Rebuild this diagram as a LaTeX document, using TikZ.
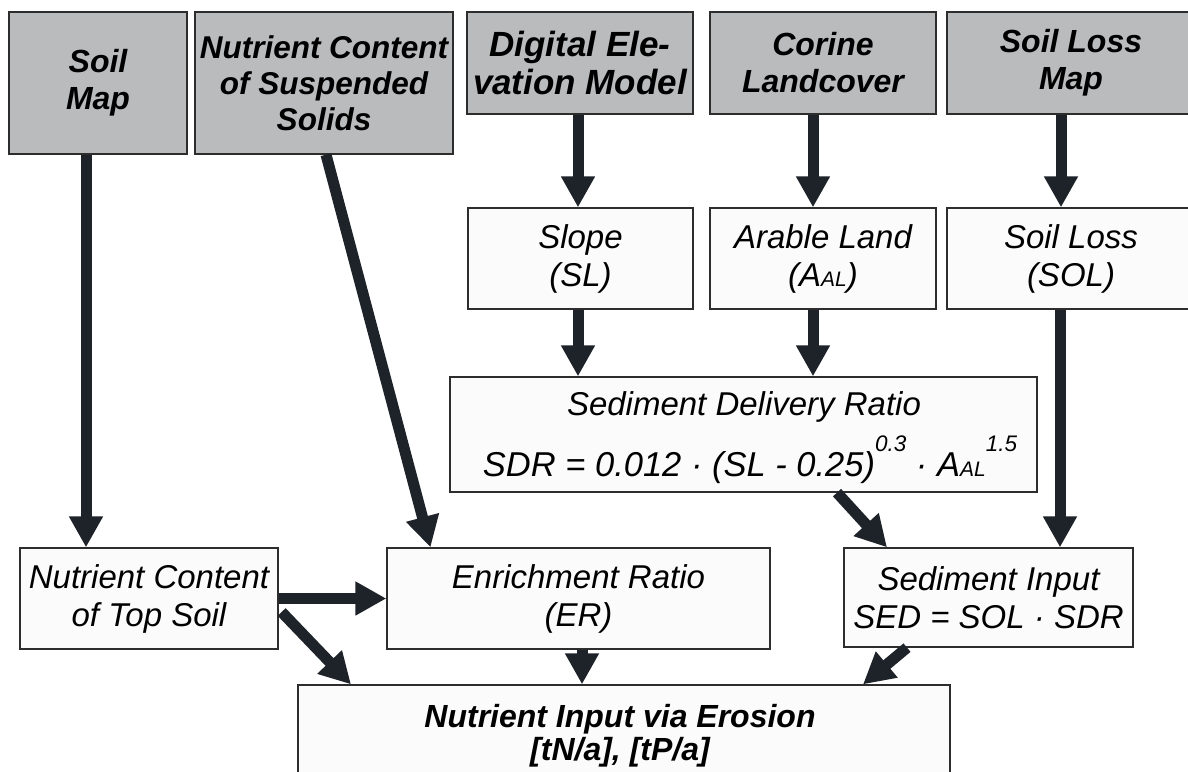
\documentclass[tikz,border=0pt]{standalone}
\usepackage{fontspec}
\setmainfont{Liberation Sans}
\usetikzlibrary{arrows.meta}
\definecolor{boxgray}{RGB}{185,187,189}
\definecolor{boxwhite}{RGB}{251,251,251}
\definecolor{edgecol}{RGB}{45,45,45}
\definecolor{arrcol}{RGB}{29,35,41}
\newcommand{\tsz}{\fontsize{32}{37}\selectfont\bfseries\itshape}
\newcommand{\tszbig}{\fontsize{35}{38}\selectfont\bfseries\itshape}
\newcommand{\msz}{\fontsize{33}{38}\selectfont\itshape}
\newcommand{\fsz}{\fontsize{34.5}{38}\selectfont\itshape}
\newcommand{\bsz}{\fontsize{32}{33}\selectfont\bfseries\itshape}
\newcommand{\smallsub}[1]{{\fontsize{21}{21}\selectfont #1}}
\newcommand{\supr}[1]{\raisebox{25pt}{\fontsize{22.5}{22.5}\selectfont #1}}
\begin{document}
\begin{tikzpicture}[x=1pt,y=-1pt,
  gbox/.style={draw=edgecol,line width=1.3pt,fill=boxgray,inner sep=0pt,align=center,font=\tsz},
  wbox/.style={draw=edgecol,line width=1.3pt,fill=boxwhite,inner sep=0pt,align=center,font=\msz},
  txt/.style={inner sep=0pt,align=center},
  arr/.style={draw=arrcol,line width=11pt,-{Triangle[length=31pt,width=32pt]}}]
\useasboundingbox (0,0) rectangle (1188,771);
\clip (0,0) rectangle (1188,771);
\fill[white] (0,0) rectangle (1188,771);

% top row
\node[gbox,minimum width=178pt,minimum height=142pt] (soilmap) at (98,83) {Soil\\Map};
\node[gbox,minimum width=258pt,minimum height=142pt,font=\fontsize{31.5}{36}\selectfont\bfseries\itshape] (ncss) at (324,83) {Nutrient Content\\of Suspended\\Solids};
\node[gbox,minimum width=226pt,minimum height=102pt,font=\tszbig] (dem) at (580,63) {Digital Ele-\\vation Model};
\node[gbox,minimum width=226pt,minimum height=102pt] (corine) at (823,63) {Corine\\Landcover};
\node[gbox,minimum width=248pt,minimum height=102pt] (slm) at (1071,63) {Soil Loss\\Map};

% middle row
\node[wbox,minimum width=225pt,minimum height=101pt] (slope) at (580.5,258.5) {Slope\\(SL)};
\node[wbox,minimum width=226pt,minimum height=101pt] (arable) at (823,258.5) {Arable Land\\(A\smallsub{AL})};
\node[wbox,minimum width=248pt,minimum height=101pt] (soilloss) at (1071,258.5) {Soil Loss\\(SOL)};

\node[wbox,minimum width=587pt,minimum height=115pt] (sdr) at (743.5,434.5) {};
\node[txt,font=\msz,anchor=base] (sdrA) at (744,415) {Sediment Delivery Ratio};
\node[txt,font=\fsz,anchor=base] (sdrB) at (750,476) {SDR = 0.012 · (SL - 0.25)\supr{0.3} · A\smallsub{AL}\supr{1.5}};

% lower row
\node[wbox,minimum width=258pt,minimum height=101pt] (ncts) at (149,598.5) {Nutrient Content\\of Top Soil};
\node[wbox,minimum width=383pt,minimum height=101pt] (er) at (578.5,598.5) {Enrichment Ratio\\(ER)};
\node[wbox,minimum width=289pt,minimum height=99pt] (sed) at (988.5,597.5) {Sediment Input\\SED = SOL · SDR};

\node[wbox,minimum width=652pt,minimum height=125pt] (nie) at (624,747.5) {};
\node[txt,font=\bsz] (nieT) at (620,736) {Nutrient Input via Erosion\\{}[tN/a], [tP/a]};

% arrows
\draw[arr] ([xshift=-12pt]soilmap.south) -- ([xshift=-12pt]soilmap.south |- ncts.north);
\draw[arr] ([xshift=2pt]ncss.south) -- ([xshift=-148pt]er.north);
\draw[arr] ([xshift=-2pt]dem.south) -- ([xshift=-2pt]dem.south |- slope.north);
\draw[arr] ([xshift=-10pt]corine.south) -- ([xshift=-10pt]corine.south |- arable.north);
\draw[arr] ([xshift=-10pt]slm.south) -- ([xshift=-10pt]slm.south |- soilloss.north);
\draw[arr] ([xshift=-2.5pt]slope.south) -- ([xshift=-2.5pt]slope.south |- sdr.north);
\draw[arr] ([xshift=-10pt]arable.south) -- ([xshift=-10pt]arable.south |- sdr.north);
\draw[arr] ([xshift=-11pt]soilloss.south) -- ([xshift=-11pt]soilloss.south |- sed.north);
\draw[arr] ([xshift=93.5pt]sdr.south) -- ([xshift=-101.5pt]sed.north);
\draw[arr] (ncts.east) -- (er.west);
\draw[arr] ([xshift=3pt,yshift=-13.5pt]ncts.east) -- ([xshift=-273pt]nie.north);
\draw[arr] ([xshift=3.5pt]er.south) -- ([xshift=3.5pt]er.south |- nie.north);
\draw[arr] ([xshift=-81.5pt]sed.south) -- ([xshift=239pt]nie.north);
\end{tikzpicture}
\end{document}
